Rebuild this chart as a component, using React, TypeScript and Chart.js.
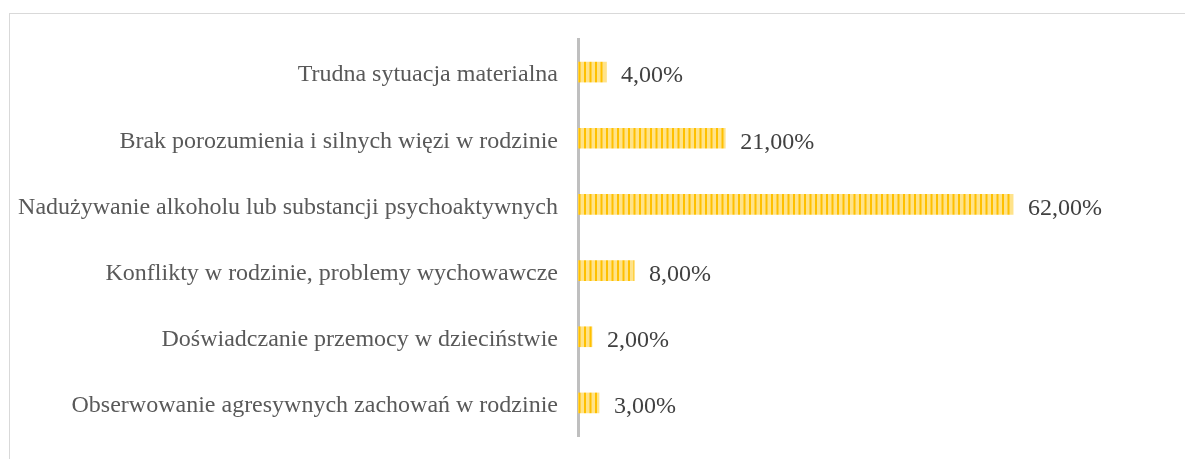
import React, { useEffect, useRef } from "react";
import { Chart, registerables } from "chart.js";

Chart.register(...registerables);

const categories: string[] = [
  "Trudna sytuacja materialna",
  "Brak porozumienia i silnych więzi w rodzinie",
  "Nadużywanie alkoholu lub substancji psychoaktywnych",
  "Konflikty w rodzinie, problemy wychowawcze",
  "Doświadczanie przemocy w dzieciństwie",
  "Obserwowanie agresywnych zachowań w rodzinie",
];
const values: number[] = [4, 21, 62, 8, 2, 3];

const FONT = '"Liberation Serif", "Times New Roman", serif';

function makePattern(): CanvasPattern | string {
  const c = document.createElement("canvas");
  c.width = 11;
  c.height = 20;
  const ctx = c.getContext("2d");
  if (!ctx) return "#FFD966";
  ctx.fillStyle = "#FFE38A";
  ctx.fillRect(0, 0, 11, 20);
  ctx.fillStyle = "#FFC000";
  ctx.fillRect(1, 0, 2, 20);
  ctx.fillRect(6.5, 0, 2, 20);
  return ctx.createPattern(c, "repeat") || "#FFD966";
}

const valueLabels = {
  id: "valueLabels",
  afterDatasetsDraw(chart: any) {
    const ctx = chart.ctx;
    const meta = chart.getDatasetMeta(0);
    ctx.save();
    ctx.font = "24px " + FONT;
    ctx.fillStyle = "#404040";
    ctx.textAlign = "left";
    ctx.textBaseline = "middle";
    meta.data.forEach((bar: any, i: number) => {
      const v = values[i];
      const txt = v.toFixed(2).replace(".", ",") + "%";
      ctx.fillText(txt, bar.x + 15, bar.y + 4);
    });
    ctx.restore();
  },
};

export default function App() {
  const ref = useRef<HTMLCanvasElement | null>(null);
  useEffect(() => {
    if (!ref.current) return;
    const chart = new Chart(ref.current, {
      type: "bar",
      data: {
        labels: categories,
        datasets: [
          {
            data: values,
            backgroundColor: makePattern() as any,
            borderWidth: 0,
            barThickness: 20,
          },
        ],
      },
      options: {
        indexAxis: "y",
        animation: false,
        responsive: false,
        maintainAspectRatio: false,
        layout: { padding: { top: 39, bottom: 23, right: 116, left: 0 } },
        plugins: { legend: { display: false }, tooltip: { enabled: false } },
        scales: {
          x: {
            min: 0,
            max: 70,
            display: false,
            grid: { display: false },
          },
          y: {
            grid: { display: false, drawTicks: false },
            border: { display: true, color: "#BFBFBF", width: 3 },
            ticks: {
              color: "#595959",
              padding: 20,
              labelOffset: 3,
              font: { family: FONT, size: 24 },
            },
            afterFit(scale: any) {
              scale.width = 578;
              scale.paddingTop = 0;
              scale.paddingBottom = 0;
            },
          },
        },
      },
      plugins: [valueLabels],
    });
    return () => chart.destroy();
  }, []);

  return (
    <div style={{ position: "absolute", left: 0, top: 0, width: 1185, height: 459, background: "#fff", overflow: "hidden" }}>
      <div
        style={{
          position: "absolute",
          left: 9,
          top: 13,
          width: 1300,
          height: 600,
          border: "1.5px solid #D9D9D9",
        }}
      />
      <canvas ref={ref} width={1185} height={459} style={{ position: "absolute", left: 0, top: 0 }} />
    </div>
  );
}
